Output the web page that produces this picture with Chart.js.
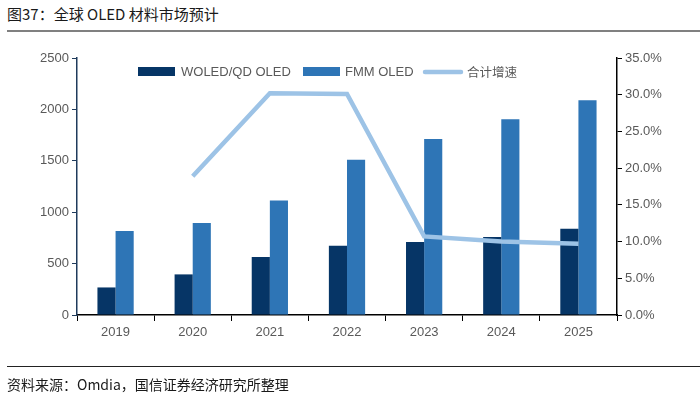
<!DOCTYPE html>
<html><head><meta charset="utf-8">
<script src="https://cdn.jsdelivr.net/npm/chart.js@4/dist/chart.umd.min.js"></script>
<style>
html,body{margin:0;padding:0;background:#fff;width:700px;height:398px;overflow:hidden;}
#wrap{position:absolute;left:0;top:0;width:700px;height:398px;}
#title{position:absolute;left:7px;top:4px;font:15px "Noto Sans CJK SC",sans-serif;color:#1a1a1a;line-height:20px;white-space:nowrap;}
#rule1{position:absolute;left:7px;top:30px;width:693px;height:2px;background:#808080;}
#rule2{position:absolute;left:7px;top:366px;width:693px;height:1px;background:#222;}
#source{position:absolute;left:7px;top:374px;font:14px "Noto Sans CJK SC",sans-serif;color:#1a1a1a;line-height:20px;white-space:nowrap;}
canvas{position:absolute;left:0;top:0;}
</style></head>
<body>
<div id="wrap">
<div id="title">图37：全球 OLED 材料市场预计</div>
<div id="rule1"></div>
<canvas id="c" width="700" height="398"></canvas>
<div id="rule2"></div>
<div id="source">资料来源：Omdia，国信证券经济研究所整理</div>
</div>
<script>
const years = ['2019','2020','2021','2022','2023','2024','2025'];
const woled = [268, 395, 564, 674, 710, 759, 840];
const fmm = [817, 895, 1115, 1511, 1712, 1903, 2088];
const growth = [null, 18.9, 30.2, 30.1, 10.7, 10.0, 9.7];
const seriesNames = ['WOLED/QD OLED', 'FMM OLED', '合计增速'];

const DARK = '#063566', MID = '#2e75b6', LIGHT = '#9dc3e6', TXT = '#595959';

const legendPlugin = {
  id: 'customLegend',
  afterDraw(chart) {
    const ctx = chart.ctx;
    const y = 72;
    ctx.save();
    ctx.textBaseline = 'middle';
    ctx.fillStyle = DARK; ctx.fillRect(138, 67, 37, 9);
    ctx.fillStyle = TXT; ctx.font = '13px "Liberation Sans", Arial, sans-serif';
    ctx.fillText(seriesNames[0], 181, y);
    ctx.fillStyle = MID; ctx.fillRect(303, 67, 37, 9);
    ctx.fillStyle = TXT; ctx.fillText(seriesNames[1], 345, y);
    ctx.strokeStyle = LIGHT; ctx.lineWidth = 4.5; ctx.lineCap = 'round';
    ctx.beginPath(); ctx.moveTo(425, y); ctx.lineTo(461, y); ctx.stroke();
    ctx.fillStyle = TXT; ctx.font = '12.5px "Noto Sans CJK SC", sans-serif';
    ctx.fillText(seriesNames[2], 467, y);
    ctx.restore();
  }
};

new Chart(document.getElementById('c'), {
  data: {
    labels: years,
    datasets: [
      { type: 'line', label: seriesNames[2], data: growth, yAxisID: 'y1', borderColor: LIGHT,
        borderWidth: 4.5, pointRadius: 0, tension: 0, order: 0, spanGaps: false, borderCapStyle: 'butt' },
      { type: 'bar', label: seriesNames[0], data: woled, yAxisID: 'y', backgroundColor: DARK,
        categoryPercentage: 0.47, barPercentage: 1, order: 1 },
      { type: 'bar', label: seriesNames[1], data: fmm, yAxisID: 'y', backgroundColor: MID,
        categoryPercentage: 0.47, barPercentage: 1, order: 1 }
    ]
  },
  options: {
    responsive: false, animation: false, devicePixelRatio: 1,
    layout: { padding: { left: 20, right: 13, top: 58, bottom: 58 } },
    plugins: { legend: { display: false }, tooltip: { enabled: false } },
    scales: {
      x: {
        offset: true,
        grid: { display: true, drawOnChartArea: false, tickLength: 6, color: '#000', offset: true },
        border: { color: '#000', width: 1.5 },
        ticks: { color: TXT, font: { size: 13, family: '"Liberation Sans", Arial, sans-serif' }, padding: 4 },
        afterFit(s) { s.height = 25; }
      },
      y: {
        position: 'left', min: 0, max: 2500,
        grid: { display: true, drawOnChartArea: false, tickLength: 5, color: '#1f3b5c' },
        border: { color: '#1f3b5c', width: 1.5 },
        ticks: { stepSize: 500, color: TXT, font: { size: 13, family: '"Liberation Sans", Arial, sans-serif' }, padding: 3,
          callback: v => String(v) },
        afterFit(s) { s.width = 57; }
      },
      y1: {
        position: 'right', min: 0, max: 35,
        grid: { display: true, drawOnChartArea: false, tickLength: 5, color: '#000' },
        border: { color: '#000', width: 1.5 },
        ticks: { stepSize: 5, color: TXT, font: { size: 13, family: '"Liberation Sans", Arial, sans-serif' }, padding: 3,
          callback: v => v.toFixed(1) + '%' },
        afterFit(s) { s.width = 70; }
      }
    }
  },
  plugins: [legendPlugin]
});
</script>
</body></html>
